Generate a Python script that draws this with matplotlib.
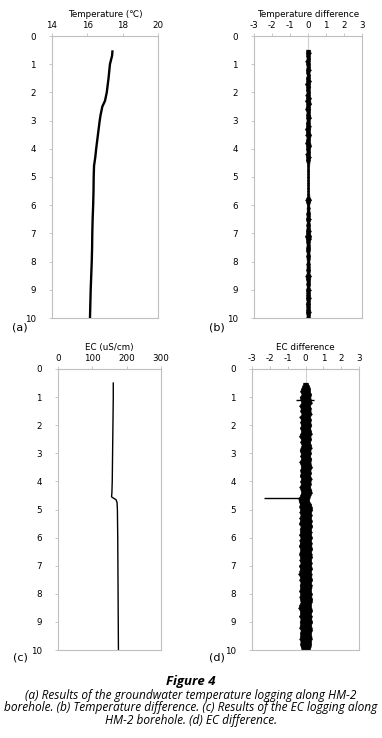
import matplotlib
matplotlib.use("Agg")
import matplotlib.pyplot as plt

# (a) temperature log
temp_depth = [0.55, 0.7, 1.0, 1.5, 2.0, 2.3, 2.5, 2.8, 3.0, 3.5, 4.0, 4.3, 4.6, 5.0, 5.5, 6.0, 6.5, 7.0, 7.5, 8.0, 8.5, 9.0, 9.5, 10.0]
temp_value = [17.42, 17.4, 17.28, 17.2, 17.1, 17.0, 16.85, 16.75, 16.7, 16.6, 16.5, 16.45, 16.38, 16.36, 16.35, 16.33, 16.3, 16.28, 16.27, 16.25, 16.22, 16.19, 16.17, 16.15]

# depth grid (m) for the noisy difference logs
diff_depth = [0.5, 0.6, 0.7, 0.8, 0.9, 1.0, 1.1, 1.2, 1.3, 1.4, 1.5, 1.6, 1.7, 1.8, 1.9, 2.0, 2.1, 2.2, 2.3, 2.4,
              2.5, 2.6, 2.7, 2.8, 2.9, 3.0, 3.1, 3.2, 3.3, 3.4, 3.5, 3.6, 3.7, 3.8, 3.9, 4.0, 4.1, 4.2, 4.3, 4.4,
              4.5, 4.6, 4.7, 4.8, 4.9, 5.0, 5.1, 5.2, 5.3, 5.4, 5.5, 5.6, 5.7, 5.8, 5.9, 6.0, 6.1, 6.2, 6.3, 6.4,
              6.5, 6.6, 6.7, 6.8, 6.9, 7.0, 7.1, 7.2, 7.3, 7.4, 7.5, 7.6, 7.7, 7.8, 7.9, 8.0, 8.1, 8.2, 8.3, 8.4,
              8.5, 8.6, 8.7, 8.8, 8.9, 9.0, 9.1, 9.2, 9.3, 9.4, 9.5, 9.6, 9.7, 9.8, 9.9, 10.0]

# (b) temperature difference, low / high edge of the scatter
tdiff_lo = [-0.1, -0.12, -0.1, -0.08, -0.14, -0.1, -0.08, -0.12, -0.1, -0.07, -0.13, -0.09, -0.16, -0.1, -0.12, -0.08,
            -0.14, -0.1, -0.16, -0.09, -0.12, -0.15, -0.08, -0.11, -0.1, -0.08, -0.12, -0.1, -0.16, -0.1, -0.14, -0.08,
            -0.12, -0.15, -0.1, -0.12, -0.08, -0.14, -0.1, -0.12, -0.07, -0.06, -0.05, -0.06, -0.05, -0.06, -0.05, -0.06,
            -0.05, -0.06, -0.05, -0.06, -0.07, -0.14, -0.1, -0.06, -0.08, -0.07, -0.1, -0.08, -0.12, -0.07, -0.1, -0.08,
            -0.12, -0.1, -0.16, -0.12, -0.1, -0.08, -0.1, -0.12, -0.07, -0.1, -0.08, -0.07, -0.09, -0.08, -0.1, -0.07,
            -0.14, -0.12, -0.08, -0.1, -0.07, -0.12, -0.09, -0.1, -0.12, -0.08, -0.13, -0.09, -0.1, -0.12, -0.08, -0.1]
tdiff_hi = [0.12, 0.14, 0.1, 0.12, 0.09, 0.12, 0.1, 0.14, 0.08, 0.12, 0.1, 0.15, 0.1, 0.13, 0.09, 0.12,
            0.1, 0.15, 0.12, 0.16, 0.1, 0.13, 0.1, 0.12, 0.15, 0.09, 0.1, 0.14, 0.12, 0.1, 0.16, 0.12,
            0.1, 0.13, 0.16, 0.1, 0.12, 0.1, 0.14, 0.1, 0.08, 0.07, 0.06, 0.07, 0.06, 0.07, 0.06, 0.07,
            0.06, 0.07, 0.06, 0.07, 0.08, 0.16, 0.1, 0.07, 0.09, 0.08, 0.12, 0.09, 0.14, 0.08, 0.12, 0.09,
            0.14, 0.12, 0.16, 0.14, 0.1, 0.09, 0.12, 0.1, 0.08, 0.12, 0.09, 0.08, 0.1, 0.09, 0.12, 0.08,
            0.15, 0.12, 0.1, 0.12, 0.08, 0.14, 0.1, 0.12, 0.14, 0.09, 0.12, 0.1, 0.12, 0.14, 0.1, 0.12]

# (c) EC log
ec_depth = [0.5, 1.0, 2.0, 3.0, 4.0, 4.4, 4.55, 4.6, 4.65, 4.75, 5.0, 6.0, 7.0, 8.0, 9.0, 10.0]
ec_value = [161, 161, 160, 159, 158, 157, 156, 162, 169, 172, 173, 174, 174.5, 175, 175.5, 176]

# (d) EC difference, low / high edge of the scatter
ecdiff_lo = [-0.12, -0.18, -0.25, -0.3, -0.22, -0.33, -0.28, -0.24, -0.35, -0.27, -0.3, -0.22, -0.34, -0.26, -0.3, -0.25,
             -0.32, -0.24, -0.29, -0.36, -0.25, -0.3, -0.22, -0.28, -0.33, -0.26, -0.3, -0.24, -0.35, -0.28, -0.25, -0.31,
             -0.27, -0.33, -0.24, -0.3, -0.26, -0.34, -0.28, -0.25, -0.3, -0.4, -0.38, -0.32, -0.36, -0.3, -0.34, -0.28,
             -0.35, -0.3, -0.38, -0.27, -0.33, -0.3, -0.36, -0.28, -0.34, -0.31, -0.38, -0.29, -0.33, -0.36, -0.3, -0.34,
             -0.28, -0.37, -0.31, -0.34, -0.4, -0.3, -0.35, -0.28, -0.33, -0.3, -0.36, -0.29, -0.34, -0.31, -0.28, -0.35,
             -0.4, -0.32, -0.3, -0.36, -0.28, -0.33, -0.3, -0.35, -0.27, -0.32, -0.3, -0.34, -0.28, -0.31, -0.26, -0.22]
ecdiff_hi = [0.12, 0.2, 0.26, 0.24, 0.32, 0.27, 0.3, 0.35, 0.25, 0.3, 0.28, 0.34, 0.25, 0.31, 0.27, 0.33,
             0.26, 0.3, 0.35, 0.27, 0.32, 0.25, 0.3, 0.34, 0.27, 0.31, 0.25, 0.33, 0.28, 0.3, 0.36, 0.27,
             0.31, 0.26, 0.34, 0.28, 0.3, 0.25, 0.32, 0.35, 0.28, 0.22, 0.2, 0.3, 0.34, 0.38, 0.3, 0.35,
             0.3, 0.36, 0.32, 0.38, 0.3, 0.34, 0.31, 0.37, 0.3, 0.35, 0.32, 0.38, 0.31, 0.34, 0.36, 0.3,
             0.35, 0.31, 0.37, 0.3, 0.34, 0.32, 0.38, 0.3, 0.35, 0.33, 0.3, 0.36, 0.32, 0.38, 0.34, 0.3,
             0.33, 0.37, 0.3, 0.35, 0.32, 0.38, 0.31, 0.34, 0.36, 0.3, 0.33, 0.35, 0.3, 0.32, 0.28, 0.24]
ec_spike_depth = [1.1, 4.58]
ec_spike_lo = [-0.52, -2.32]
ec_spike_hi = [0.5, -0.2]

caption = ("(a) Results of the groundwater temperature logging along HM-2\n"
           "borehole. (b) Temperature difference. (c) Results of the EC logging along\n"
           "HM-2 borehole. (d) EC difference.")

W, H = 382, 738
SPINE = "#bfbfbf"
TICK_FS = 6.3


def make_axes(fig, left, right, top, bottom, xlim, xticks, title):
    ax = fig.add_axes([left / W, (H - bottom) / H, (right - left) / W, (bottom - top) / H])
    ax.set_xlim(*xlim)
    ax.set_ylim(10, 0)
    ax.set_xticks(xticks)
    ax.set_yticks(range(11))
    ax.xaxis.tick_top()
    ax.xaxis.set_label_position("top")
    ax.set_xlabel(title, fontsize=TICK_FS, labelpad=3)
    for s in ax.spines.values():
        s.set_color(SPINE)
        s.set_linewidth(0.8)
    ax.tick_params(axis="both", labelsize=TICK_FS, color=SPINE, length=2.5, width=0.6, pad=2)
    ax.tick_params(axis="y", pad=9)
    return ax


def draw_band(ax, lo, hi):
    ax.fill_betweenx(diff_depth, lo, hi, color="black", linewidth=0.4, edgecolor="black", zorder=2)
    ax.hlines(diff_depth, lo, hi, color="black", linewidth=0.9, zorder=2)


def main():
    plt.rcParams["font.family"] = ["DejaVu Sans"]
    plt.rcParams["axes.unicode_minus"] = False
    fig = plt.figure(figsize=(W / 100, H / 100), dpi=100)

    # (a)
    ax = make_axes(fig, 52, 158, 36, 318, (14, 20), [14, 16, 18, 20], "Temperature (\u2103)")
    ax.plot(temp_value, temp_depth, color="black", linewidth=1.7)
    fig.text(20 / W, 1 - 327 / H, "(a)", fontsize=8, ha="center", va="center")

    # (b)
    ax = make_axes(fig, 254, 362, 36, 318, (-3, 3), [-3, -2, -1, 0, 1, 2, 3], "Temperature difference")
    ax.axvline(0, color="#cfcfcf", linewidth=0.8, zorder=1)
    draw_band(ax, tdiff_lo, tdiff_hi)
    fig.text(217 / W, 1 - 327 / H, "(b)", fontsize=8, ha="center", va="center")

    # (c)
    ax = make_axes(fig, 58, 161, 369, 650, (0, 300), [0, 100, 200, 300], "EC (uS/cm)")
    ax.plot(ec_value, ec_depth, color="black", linewidth=1.0)
    fig.text(20 / W, 1 - 657 / H, "(c)", fontsize=8, ha="center", va="center")

    # (d)
    ax = make_axes(fig, 252, 359, 369, 650, (-3, 3), [-3, -2, -1, 0, 1, 2, 3], "EC difference")
    ax.axvline(0, color="#cfcfcf", linewidth=0.8, zorder=1)
    draw_band(ax, ecdiff_lo, ecdiff_hi)
    ax.hlines(ec_spike_depth, ec_spike_lo, ec_spike_hi, color="black", linewidth=1.0, zorder=3)
    fig.text(217 / W, 1 - 657 / H, "(d)", fontsize=8, ha="center", va="center")

    # caption
    fig.text(0.5, 1 - 682 / H, "Figure 4", fontsize=9.5, fontweight="bold", fontstyle="italic",
             family="Open Sans", ha="center", va="center")
    fig.text(0.5, 1 - 708 / H, caption, fontsize=8.6, fontstyle="italic", family="Open Sans",
             ha="center", va="center", linespacing=0.98)

    fig.savefig("out.png", dpi=100)
    plt.close(fig)


if __name__ == "__main__":
    main()
